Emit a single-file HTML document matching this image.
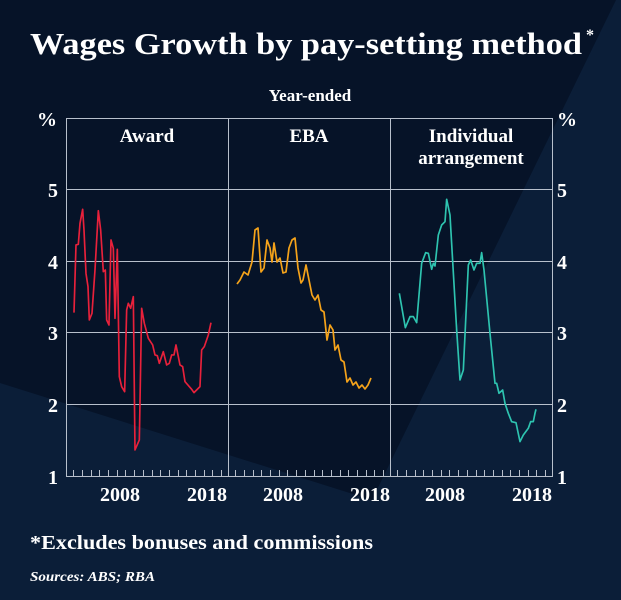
<!DOCTYPE html>
<html><head><style>
html,body{margin:0;padding:0;background:#0b1e38;}
svg{display:block;font-family:"Liberation Serif",serif;}
</style></head><body>
<svg width="621" height="600" viewBox="0 0 621 600" xmlns="http://www.w3.org/2000/svg">
<rect width="621" height="600" fill="#0b1e38"/>
<polygon points="0,0 616,0 372,500 0,383" fill="#061328"/>
<g fill="#fff" font-weight="bold">
<text x="30" y="54" font-size="31" textLength="552" lengthAdjust="spacingAndGlyphs">Wages Growth by pay-setting method</text>
<text x="586" y="40" font-size="16">*</text>
<text x="310" y="101" font-size="17" text-anchor="middle">Year-ended</text>
<text x="147" y="142" font-size="19" text-anchor="middle">Award</text>
<text x="309" y="142" font-size="19" text-anchor="middle">EBA</text>
<text x="471" y="142" font-size="19" text-anchor="middle">Individual</text>
<text x="471" y="164" font-size="19" text-anchor="middle">arrangement</text>
<g font-size="20">
<text x="57" y="126" text-anchor="end">%</text>
<text x="58" y="197" text-anchor="end">5</text>
<text x="58" y="269" text-anchor="end">4</text>
<text x="58" y="340" text-anchor="end">3</text>
<text x="58" y="412" text-anchor="end">2</text>
<text x="58" y="484" text-anchor="end">1</text>
<text x="557" y="126">%</text>
<text x="557" y="197">5</text>
<text x="557" y="269">4</text>
<text x="557" y="340">3</text>
<text x="557" y="412">2</text>
<text x="557" y="484">1</text>
<text x="120" y="501" text-anchor="middle">2008</text>
<text x="207" y="501" text-anchor="middle">2018</text>
<text x="283" y="501" text-anchor="middle">2008</text>
<text x="370" y="501" text-anchor="middle">2018</text>
<text x="445" y="501" text-anchor="middle">2008</text>
<text x="532" y="501" text-anchor="middle">2018</text>
</g>
<text x="30" y="549" font-size="20" textLength="343" lengthAdjust="spacingAndGlyphs">*Excludes bonuses and commissions</text>
<text x="30" y="581" font-size="14" font-style="italic" textLength="125" lengthAdjust="spacingAndGlyphs">Sources: ABS; RBA</text>
</g>
<g stroke="#b8c0cc" stroke-width="1" fill="none">
<rect x="66.5" y="118.5" width="486" height="358"/>
<line x1="228.5" y1="118" x2="228.5" y2="476"/>
<line x1="390.5" y1="118" x2="390.5" y2="476"/>
<line x1="66" y1="189.5" x2="552" y2="189.5"/>
<line x1="66" y1="261.5" x2="552" y2="261.5"/>
<line x1="66" y1="332.5" x2="552" y2="332.5"/>
<line x1="66" y1="404.5" x2="552" y2="404.5"/>
</g>
<g stroke="#b8c0cc" stroke-width="1">
<path d="M73.5 470v6M82.5 470v6M91.5 470v6M99.5 470v6M108.5 470v6M117.5 470v6M125.5 470v6M134.5 470v6M143.5 470v6M152.5 470v6M160.5 470v6M169.5 470v6M178.5 470v6M186.5 470v6M195.5 470v6M204.5 470v6M212.5 470v6M221.5 470v6"/>
<path transform="translate(162,0)" d="M73.5 470v6M82.5 470v6M91.5 470v6M99.5 470v6M108.5 470v6M117.5 470v6M125.5 470v6M134.5 470v6M143.5 470v6M152.5 470v6M160.5 470v6M169.5 470v6M178.5 470v6M186.5 470v6M195.5 470v6M204.5 470v6M212.5 470v6M221.5 470v6"/>
<path transform="translate(324,0)" d="M73.5 470v6M82.5 470v6M91.5 470v6M99.5 470v6M108.5 470v6M117.5 470v6M125.5 470v6M134.5 470v6M143.5 470v6M152.5 470v6M160.5 470v6M169.5 470v6M178.5 470v6M186.5 470v6M195.5 470v6M204.5 470v6M212.5 470v6M221.5 470v6"/>
</g>
<g transform="translate(0,90) scale(0.3333)" fill="none" stroke="#e8213b" stroke-width="5" stroke-linejoin="round">
<polyline points="222,668 228,465 235,463 240,400 248,358 252,420 258,550 264,590 268,690 276,670 285,540 295,362 302,420 310,545 316,540 320,690 327,705 333,450 340,475 345,685 352,478 358,860 365,890 374,905 380,660 385,640 392,655 400,620 405,1080 418,1050 425,655 433,700 445,745 458,765 465,795 472,797 478,820 490,785 500,825 508,820 515,795 522,795 528,765 540,825 548,830 555,875 575,898 582,908 600,890 605,780 613,770 625,735 633,698"/>
</g>
<polyline fill="none" stroke="#f5a31a" stroke-width="1.7" stroke-linejoin="round" points="237,284 240,280 244,272 248,275 252,262 255,230 258,228 261,272 264,268 267,240 270,248 272,262 274,243 277,262 280,258 283,273 286,272 289,248 292,240 295,238 298,268 301,283 303,280 306,265 309,280 312,295 315,300 318,295 321,310 324,312 327,340 330,325 333,330 335,350 338,345 341,360 344,362 347,382 350,378 353,385 356,382 359,388 362,385 365,389 368,385 371,378"/>
<g transform="translate(380,100) scale(0.3333)" fill="none" stroke="#2ec4b0" stroke-width="5" stroke-linejoin="round">
<polyline points="58,580 76,683 90,650 100,650 110,668 125,490 137,458 145,460 155,508 160,490 165,498 175,405 185,375 195,365 200,298 210,345 230,690 240,840 250,810 265,495 272,480 282,510 290,490 300,490 305,458 312,510 330,700 345,850 350,850 357,880 368,870 375,910 385,940 395,965 408,968 420,1025 430,1005 445,985 452,965 460,965 465,940 468,928"/>
</g>
</svg>
</body></html>
